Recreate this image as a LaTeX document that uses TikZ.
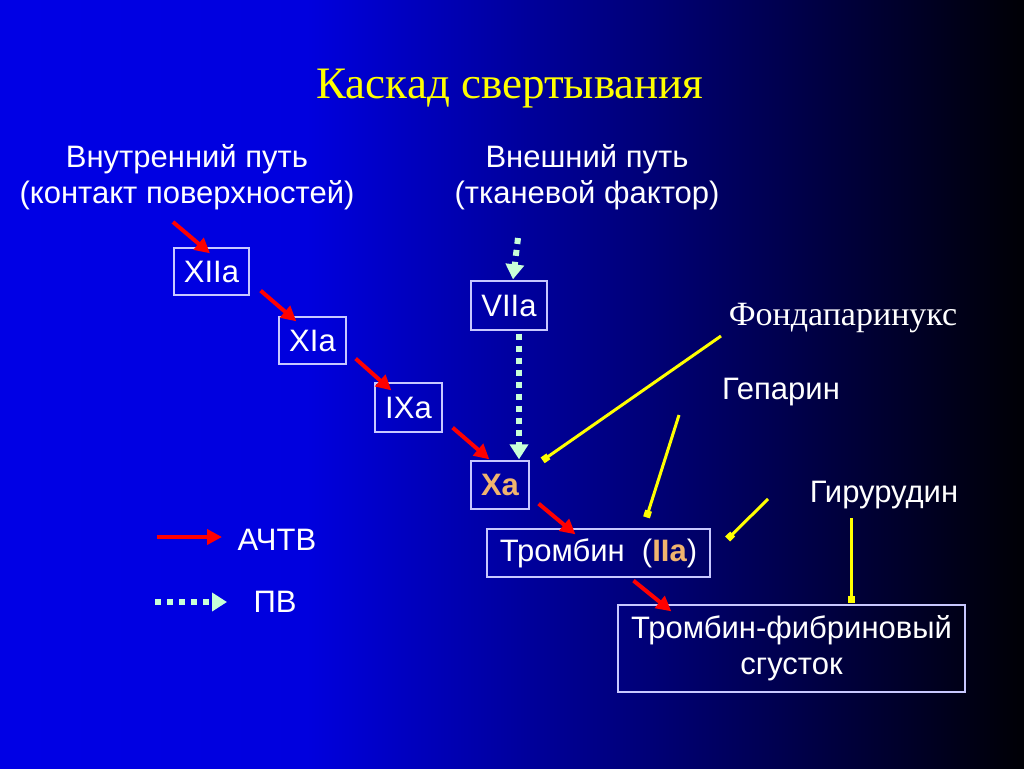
\documentclass[tikz,border=0pt]{standalone}
\usepackage{fontspec}
\setmainfont{Liberation Sans}
\newfontfamily\serifface{Liberation Serif}
\usetikzlibrary{arrows.meta,calc}
\definecolor{boxline}{RGB}{200,200,255}
\definecolor{mint}{RGB}{200,255,215}
\definecolor{xorange}{RGB}{240,180,110}
\definecolor{yel}{RGB}{255,255,0}
\pgfdeclarehorizontalshading{bgshade}{100bp}{rgb(0bp)=(0,0,0.9); rgb(25bp)=(0,0,0.9); rgb(40bp)=(0,0,0.87); rgb(75bp)=(0,0,0.02); rgb(100bp)=(0,0,0.02)}
\tikzset{
  box/.style={draw=boxline, line width=1.3pt, inner sep=0pt, text=white, font=\fontsize{31}{36}\selectfont},
  lab/.style={text=white, font=\fontsize{31}{36}\selectfont, align=center},
  redarr/.style={draw=red, line width=4pt, -{Triangle[length=15pt,width=15pt]}},
  mintarr/.style={draw=mint, line width=6pt, dash pattern=on 6pt off 6pt, -{Triangle[length=15pt,width=18pt,fill=mint]}},
  yelline/.style={draw=yel, line width=3pt, -{Square[length=7pt,width=7pt]}},
}
\begin{document}
\begin{tikzpicture}[x=1pt,y=-1pt]
\shade[shading=bgshade] (0,0) rectangle (1024,768);
\useasboundingbox (0,0) rectangle (1024,768);

% title
\node[text=yel, font=\serifface\fontsize{45}{52}\selectfont] (title) at (510,89) {Каскад свертывания};

% path headings
\node[lab] (intr) at (187,177) {Внутренний путь\\(контакт поверхностей)};
\node[lab] (extr) at (587,177) {Внешний путь\\(тканевой фактор)};

% factor boxes
\node[box, minimum width=75, minimum height=47] (XIIa) at (211.5,271.5) {XIIa};
\node[box, minimum width=67, minimum height=47] (XIa) at (312.5,340.5) {XIa};
\node[box, minimum width=67, minimum height=49] (IXa) at (408.5,407.5) {IXa};
\node[box, minimum width=76, minimum height=49] (VIIa) at (509,305.5) {VIIa};
\node[box, minimum width=58, minimum height=48, font=\bfseries\fontsize{31}{36}\selectfont, text=xorange] (Xa) at (500,485) {Xa};
\node[box, minimum width=223, minimum height=48] (thr) at (598.5,553) {Тромбин~~(\textbf{\color{xorange}IIa})};
\node[box, minimum width=347, minimum height=87, align=center] (clot) at (791.5,648.5) {Тромбин-фибриновый\\сгусток};

% drug labels
\node[text=white, font=\serifface\fontsize{34}{40}\selectfont] (fonda) at (843,318) {Фондапаринукс};
\node[lab] (hep) at (781,392) {Гепарин};
\node[lab] (hir) at (884,495) {Гирурудин};

% legend
\node[lab] (aptt) at (277,540) {АЧТВ};
\node[lab] (pt) at (275,602) {ПВ};
\coordinate (l1s) at (157,537);
\coordinate (l1e) at (222,537);
\coordinate (l2s) at (155,602);
\coordinate (l2e) at (227,602);
\draw[redarr] (l1s) -- (l1e);
\draw[mintarr] (l2s) -- (l2e);

% red cascade arrows
\coordinate (r0) at (173,222);
\draw[redarr] (r0) -- ($(XIIa.north)+(-1.5,6)$);
\draw[redarr] ($(XIIa.south east)+(11,-5)$) -- ($(XIa.north west)+(18,5)$);
\draw[redarr] ($(XIa.south east)+(9,-6)$) -- ($(IXa.north west)+(17,8)$);
\draw[redarr] ($(IXa.south east)+(10,-5)$) -- ($(Xa.north west)+(19,-1)$);
\draw[redarr] ($(Xa.south east)+(9,-6)$) -- ($(thr.north)+(-23,6)$);
\draw[redarr] ($(thr.south)+(35,3)$) -- ($(clot.north west)+(54,7)$);

% dotted extrinsic arrows
\coordinate (m0) at (518,238);
\draw[mintarr] (m0) -- ($(VIIa.north)+(4,-1)$);
\draw[mintarr] ($(VIIa.south)+(10,3)$) -- ($(Xa.north)+(19,-1)$);

% yellow inhibitor lines
\coordinate (y1) at (721,336);
\coordinate (y2) at (679,415);
\coordinate (y3) at (768,499);
\coordinate (y4) at (851,518);
\draw[yelline] (y1) -- ($(Xa.north east)+(13,0)$);
\draw[yelline] (y2) -- ($(thr.north)+(48,-11)$);
\draw[yelline] (y3) -- ($(thr.east)+(17,-14)$);
\draw[yelline] (y4) -- ($(clot.north)+(59.5,-1)$);
\end{tikzpicture}
\end{document}
